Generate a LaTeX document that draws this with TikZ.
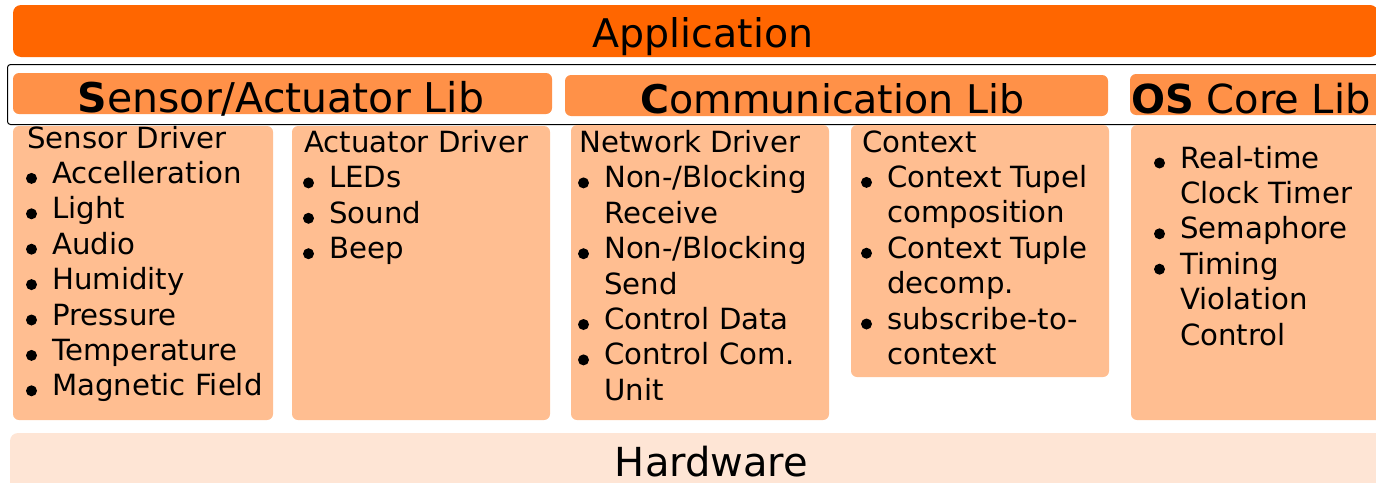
\documentclass[tikz,border=0pt]{standalone}
\usepackage{fontspec}
\setmainfont{DejaVu Sans}
\definecolor{appor}{HTML}{FF6600}
\definecolor{libor}{HTML}{FF9148}
\definecolor{boxor}{HTML}{FFBE91}
\definecolor{hwor}{HTML}{FEE5D5}
\newcommand\bodyfont{\fontsize{29.2}{34}\selectfont}
\newcommand\titlefont{\fontsize{39.5}{46}\selectfont}
\newcommand\boxcol[4]{%
  \foreach \tx/\dx/\bu [count=\i from 0] in {#4} {
    \node[txt] (#1\i) at ({#2+\dx},{#3+35.4*\i}) {\tx};
    \ifnum\bu=1 \fill ({#2+5.5},{#3+35.4*\i-5}) circle (5.5pt); \fi
  }}
\begin{document}
\begin{tikzpicture}[x=1pt,y=-1pt,
  txt/.style={anchor=base west, inner sep=0pt, font=\bodyfont},
  title/.style={anchor=base, inner sep=0pt, font=\titlefont},
  libbar/.style={fill=libor, rounded corners=6pt},
  drvbox/.style={fill=boxor, rounded corners=6pt}]
\useasboundingbox (0,0) rectangle (1376,482);
% application
\fill[appor, rounded corners=8pt] (13,5) rectangle (1378,57);
\node[title] (app) at (703,47) {Application};
% frame
\draw[black, line width=1pt, rounded corners=3pt] (7.5,64.5) rectangle (1385,124.5);
% lib bars
\fill[libbar] (13,73) rectangle (552,114);
\fill[libbar] (565,75) rectangle (1108,116);
\fill[libbar] (1130,74) rectangle (1390,115);
\node[title, font=\fontsize{41}{46}\selectfont] (sal) at (281,112) {\textbf{S}ensor/Actuator Lib};
\node[title] (cl) at (832.5,113) {\textbf{C}ommunication Lib};
\node[title, font=\fontsize{40}{46}\selectfont] (osl) at (1251,113) {\textbf{OS} Core Lib};
% driver boxes
\fill[drvbox] (13,126) rectangle (273,420);
\fill[drvbox] (292,126) rectangle (550,420);
\fill[drvbox] (571,125) rectangle (829,420);
\fill[drvbox] (851,125) rectangle (1109,377);
\fill[drvbox] (1131,125) rectangle (1390,420);
% hardware
\fill[hwor, rounded corners=8pt] (10,433) rectangle (1390,495);
\node[title, font=\fontsize{40}{46}\selectfont] (hw) at (711.5,476) {Hardware};
% texts
\boxcol{sd}{26}{148}{Sensor Driver/1/0, Accelleration/26/1, Light/26/1, Audio/26/1, Humidity/26/1, Pressure/26/1, Temperature/26/1, Magnetic Field/26/1}
\boxcol{ad}{303}{152.5}{Actuator Driver/1/0, LEDs/26/1, Sound/26/1, Beep/26/1}
\boxcol{nd}{578}{152.5}{Network Driver/1/0, {Non-/Blocking}/26/1, Receive/26/0, {Non-/Blocking}/26/1, Send/26/0, Control Data/26/1, Control Com./26/1, Unit/26/0}
\boxcol{cx}{861}{152}{Context/1/0, Context Tupel/26/1, composition/26/0, Context Tuple/26/1, decomp./26/0, subscribe-to-/26/1, context/26/0}
\boxcol{os}{1154}{168}{Real-time/26/1, Clock Timer/26/0, Semaphore/26/1, Timing/26/1, Violation/26/0, Control/26/0}
\end{tikzpicture}
\end{document}
